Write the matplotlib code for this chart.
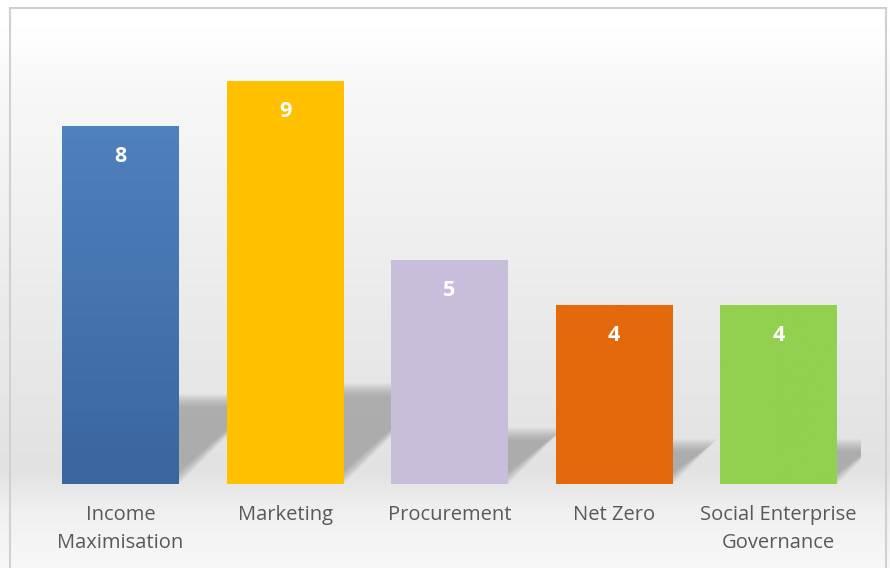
import matplotlib
matplotlib.use("Agg")
import matplotlib.pyplot as plt
import numpy as np
from matplotlib.colors import LinearSegmentedColormap
from matplotlib.patches import Polygon, Rectangle

categories = ["Income\nMaximisation", "Marketing", "Procurement", "Net Zero", "Social Enterprise\nGovernance"]
values = [8, 9, 5, 4, 4]
colors_top = ["#4f81bd", "#ffc000", "#c8bedb", "#e3690b", "#92d050"]
colors_bot = ["#3a659f", "#ffc000", "#c8bedb", "#e3690b", "#92d050"]

W, H = 890, 568
fig = plt.figure(figsize=(W / 100, H / 100), dpi=100)

# background gradient over the whole figure
bg = fig.add_axes([0, 0, 1, 1], zorder=-10)
bg_cmap = LinearSegmentedColormap.from_list(
    "bg", [(0, "#f8f8f8"), (0.1, "#f0f0f0"), (0.17, "#e2e2e2"), (0.5, "#ececec"),
           (0.85, "#f8f8f8"), (0.95, "#ffffff"), (1, "#ffffff")])
grad = np.linspace(0, 1, 256).reshape(-1, 1)
bg.imshow(grad, aspect="auto", cmap=bg_cmap, origin="lower", extent=[0, 1, 0, 1])
bg.add_patch(Rectangle((10 / W, -0.01), 876 / W, 1 - 8 / H + 0.01, fill=False,
                       edgecolor="#d0d0d0", linewidth=1.5, transform=bg.transAxes))
bg.set_xlim(0, 1)
bg.set_ylim(0, 1)
bg.axis("off")

ax = fig.add_axes([38.25 / W, 84 / H, 822.5 / W, 447.5 / H])
ax.set_facecolor("none")
x = np.arange(len(categories))
width = 0.71

# soft perspective shadows, cast up and to the right
for xi, v in zip(x, values):
    hs = 0.25 * v
    dx = 1.0 * hs * 44.75 / 164.5
    left, right = xi - width / 2, xi + width / 2
    for k in range(10):
        g = 0.01 * k
        poly = Polygon([(left + g, 0), (right - g, 0), (right + dx - g, hs - g * 3),
                        (left + dx + g, hs - g * 3)], closed=True,
                       facecolor="#888888", edgecolor="none", alpha=0.08, zorder=1)
        ax.add_patch(poly)

# bars with a slight vertical gradient
for xi, v, ct, cb in zip(x, values, colors_top, colors_bot):
    bar = ax.bar(xi, v, width=width, color=ct, zorder=2)[0]
    cm = LinearSegmentedColormap.from_list("b", [cb, ct])
    im = ax.imshow(np.linspace(0, 1, 100).reshape(-1, 1), cmap=cm, aspect="auto", origin="lower",
                   extent=[xi - width / 2, xi + width / 2, 0, v], zorder=3)
    im.set_clip_path(bar)
    ax.text(xi, v - 0.68, str(v), ha="center", va="center", color="white",
            fontsize=15.5, fontweight="bold", family="Open Sans", zorder=4)

ax.set_xlim(-0.5, 4.5)
ax.set_ylim(0, 10)
ax.set_xticks(x)
ax.set_xticklabels(categories, fontsize=14.5, color="#595959", family="Open Sans", linespacing=1.55)
ax.tick_params(axis="x", length=0, pad=15)
ax.set_yticks([])
for s in ax.spines.values():
    s.set_visible(False)

fig.savefig("out.png", dpi=100)
